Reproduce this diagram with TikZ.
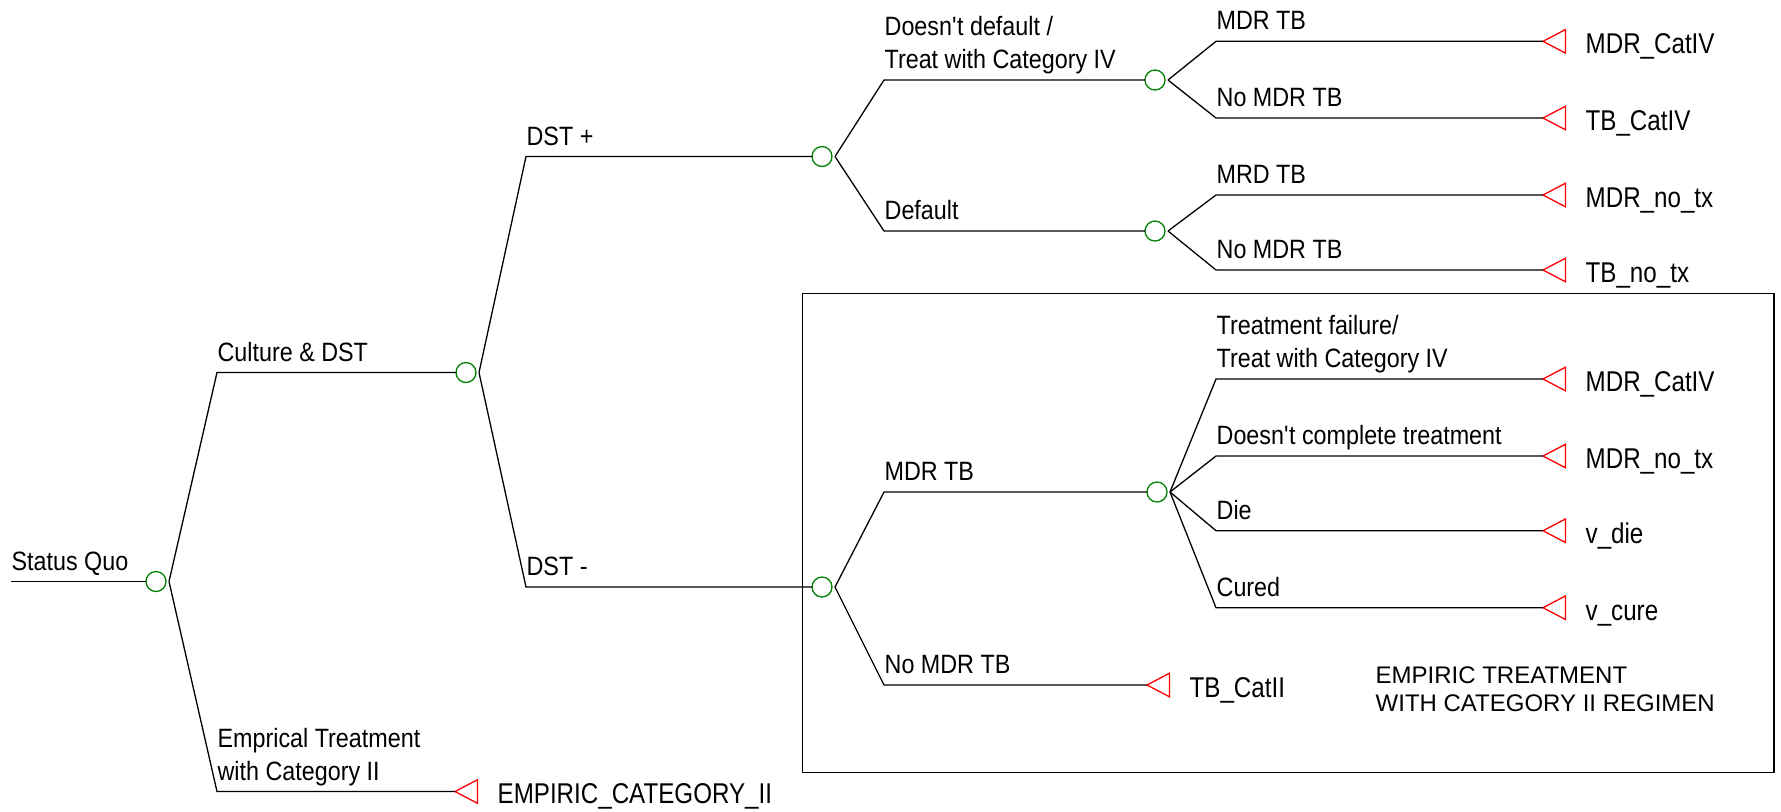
\documentclass[tikz,border=0pt]{standalone}
\usepackage{fontspec}
\setmainfont{Liberation Sans}
\newfontfamily\lblfont{Liberation Sans}[FakeStretch=0.88]
\newfontfamily\endfont{Liberation Sans}[FakeStretch=0.845]
\definecolor{chancegreen}{RGB}{0,128,0}
\definecolor{termred}{RGB}{255,0,0}

\begin{document}
\begin{tikzpicture}[x=0.5pt,y=-0.5pt,line width=0.65pt,
  chance/.style={circle,draw=chancegreen,minimum size=10pt,inner sep=0pt,outer sep=0pt},
  termtri/.style={draw=termred,line join=miter},
  lbl/.style={anchor=base west,inner sep=0pt,align=left,yshift=5.75pt,
    font=\lblfont\fontsize{13.25pt}{16.5pt}\selectfont},
  endlbl/.style={anchor=base west,inner sep=0pt,xshift=21pt,yshift=-6.15pt,
    font=\endfont\fontsize{14.3pt}{17pt}\selectfont}]
  \useasboundingbox (0,0) rectangle (1781,811);

  % columns where the branches turn flat
  \coordinate (colA) at (217,0);
  \coordinate (colB) at (526,0);
  \coordinate (colC) at (884,0);
  \coordinate (colD) at (1216,0);

  % chance nodes
  \coordinate (sq) at (11,581.5);
  \node[chance] (c0) at (156,581.5) {};
  \node[chance] (c1) at (466,372.5) {};
  \node[chance] (c2) at (822,156.5) {};
  \node[chance] (c3) at (822,587) {};
  \node[chance] (c4) at (1155,80) {};
  \node[chance] (c5) at (1155,231) {};
  \node[chance] (c6) at (1157,492) {};
  \coordinate (f0) at ([xshift=1.5pt]c0.east);
  \coordinate (f1) at ([xshift=1.5pt]c1.east);
  \coordinate (f2) at ([xshift=1.5pt]c2.east);
  \coordinate (f3) at ([xshift=1.5pt]c3.east);
  \coordinate (f4) at ([xshift=1.5pt]c4.east);
  \coordinate (f5) at ([xshift=1.5pt]c5.east);
  \coordinate (f6) at ([xshift=1.5pt]c6.east);

  % terminal nodes (tip of the triangle)
  \coordinate (t0) at (455,791.5);
  \coordinate (t1) at (1543,41.3);
  \coordinate (t2) at (1543,118);
  \coordinate (t3) at (1543,195);
  \coordinate (t4) at (1543,270);
  \coordinate (t5) at (1543,379);
  \coordinate (t6) at (1543,456);
  \coordinate (t7) at (1543,530.7);
  \coordinate (t8) at (1543,607.7);
  \coordinate (t9) at (1147,685);
  \foreach \t in {t0,t1,t2,t3,t4,t5,t6,t7,t8,t9}
    \draw[termtri] (\t) -- ++(11.25pt,5.9pt) -- ++(0,-11.8pt) -- cycle;

  \node[endlbl] (n0) at (t0) {EMPIRIC\_CATEGORY\_II};
  \node[endlbl] (n1) at (t1) {MDR\_CatIV};
  \node[endlbl] (n2) at (t2) {TB\_CatIV};
  \node[endlbl] (n3) at (t3) {MDR\_no\_tx};
  \node[endlbl] (n4) at (t4) {TB\_no\_tx};
  \node[endlbl] (n5) at (t5) {MDR\_CatIV};
  \node[endlbl] (n6) at (t6) {MDR\_no\_tx};
  \node[endlbl] (n7) at (t7) {v\_die};
  \node[endlbl] (n8) at (t8) {v\_cure};
  \node[endlbl] (n9) at (t9) {TB\_CatII};

  % branches
  \draw (sq) -- (c0);
  \draw (f0) -- (c1 -| colA) -- (c1);
  \draw (f0) -- (t0 -| colA) -- (t0);
  \draw (f1) -- (c2 -| colB) -- (c2);
  \draw (f1) -- (c3 -| colB) -- (c3);
  \draw (f2) -- (c4 -| colC) -- (c4);
  \draw (f2) -- (c5 -| colC) -- (c5);
  \draw (f3) -- (c6 -| colC) -- (c6);
  \draw (f3) -- (t9 -| colC) -- (t9);
  \draw (f4) -- (t1 -| colD) -- (t1);
  \draw (f4) -- (t2 -| colD) -- (t2);
  \draw (f5) -- (t3 -| colD) -- (t3);
  \draw (f5) -- (t4 -| colD) -- (t4);
  \draw (f6) -- (t5 -| colD) -- (t5);
  \draw (f6) -- (t6 -| colD) -- (t6);
  \draw (f6) -- (t7 -| colD) -- (t7);
  \draw (f6) -- (t8 -| colD) -- (t8);

  % branch labels
  \node[lbl] (b0) at (sq) {Status Quo};
  \node[lbl] (b1) at (c1 -| colA) {Culture \& DST};
  \node[lbl] (b2) at (t0 -| colA) {Emprical Treatment\\with Category II};
  \node[lbl] (b3) at (c2 -| colB) {DST +};
  \node[lbl] (b4) at (c3 -| colB) {DST -};
  \node[lbl] (b5) at (c4 -| colC) {Doesn\textquotesingle t default /\\Treat with Category IV};
  \node[lbl] (b6) at (c5 -| colC) {Default};
  \node[lbl] (b7) at (c6 -| colC) {MDR TB};
  \node[lbl] (b8) at (t9 -| colC) {No MDR TB};
  \node[lbl] (b9) at (t1 -| colD) {MDR TB};
  \node[lbl] (b10) at (t2 -| colD) {No MDR TB};
  \node[lbl] (b11) at (t3 -| colD) {MRD TB};
  \node[lbl] (b12) at (t4 -| colD) {No MDR TB};
  \node[lbl] (b13) at (t5 -| colD) {Treatment failure/\\Treat with Category IV};
  \node[lbl] (b14) at (t6 -| colD) {Doesn\textquotesingle t complete treatment};
  \node[lbl] (b15) at (t7 -| colD) {Die};
  \node[lbl] (b16) at (t8 -| colD) {Cured};

  % empiric treatment box
  \draw (802.5,293.5) rectangle (1774,772.5);
  \node[anchor=base west,inner sep=0pt,align=left,font=\fontsize{12pt}{14.35pt}\selectfont]
    (boxtxt) at (1375,711.7) {EMPIRIC TREATMENT\\WITH CATEGORY II REGIMEN};
\end{tikzpicture}
\end{document}
